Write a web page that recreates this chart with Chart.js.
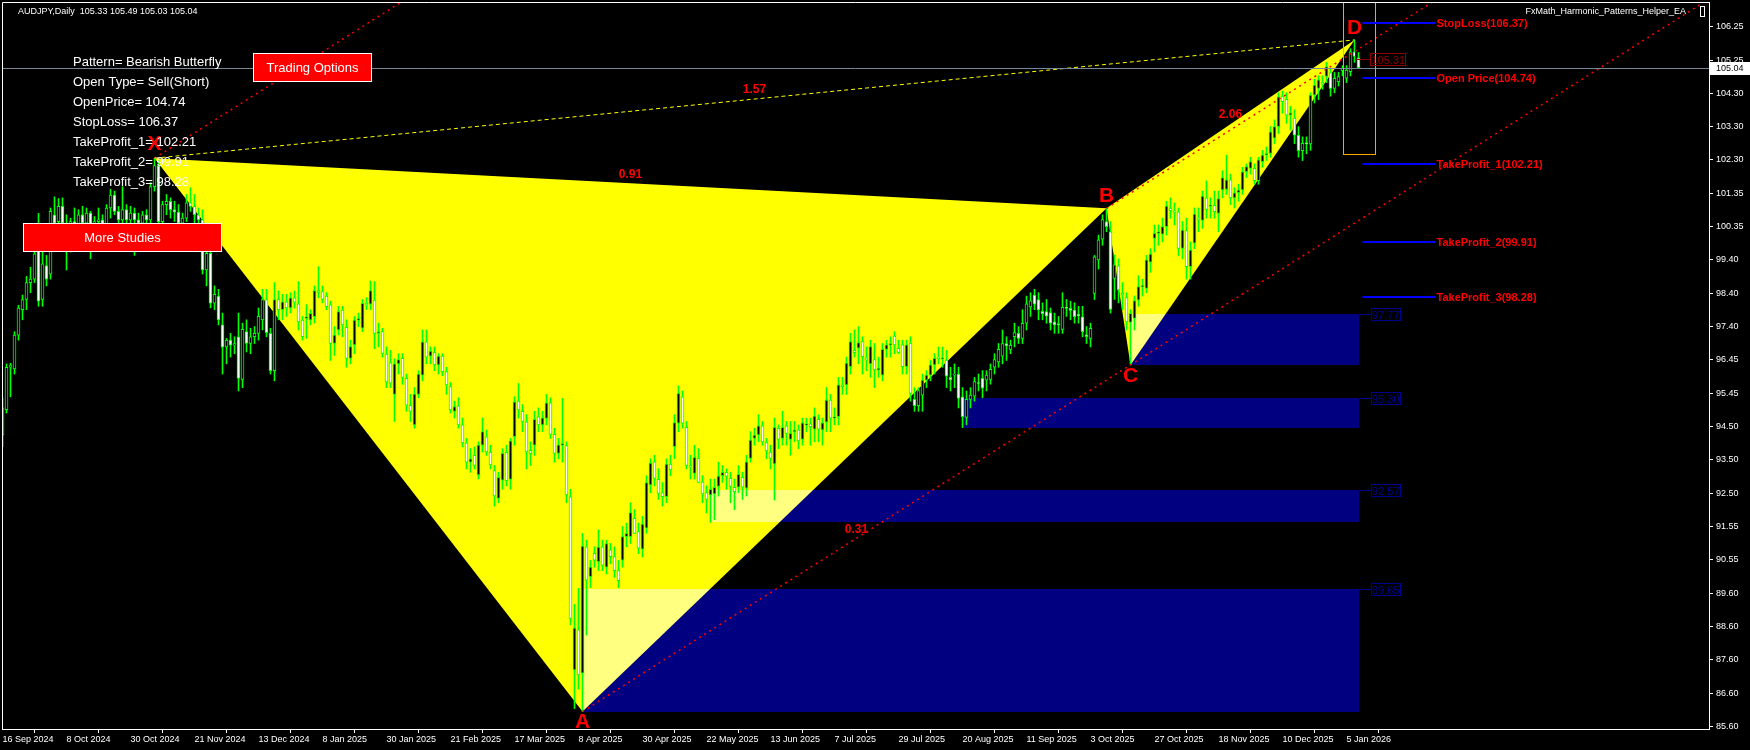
<!DOCTYPE html>
<html>
<head>
<meta charset="utf-8">
<script src="https://cdn.jsdelivr.net/npm/chart.js@4.4.1/dist/chart.umd.min.js"></script>
<style>
  html, body { margin: 0; padding: 0; background: #000; }
  canvas { display: block; }
</style>
</head>
<body>
<canvas id="myChart" width="1750" height="750"></canvas>
<script>
// AUDJPY daily candles, bar 0 = 16 Sep 2024
const opens = [
  94.20, 94.95, 96.20, 96.15, 97.15, 97.90, 98.20, 98.70, 98.80, 99.65,
  98.20, 99.20, 98.95, 100.70, 100.50, 100.95, 100.45, 99.90, 100.50, 100.30,
  100.70, 100.45, 100.75, 99.95, 100.50, 100.55, 100.30, 100.90, 101.28, 100.80,
  100.55, 100.85, 100.55, 100.75, 100.55, 100.45, 100.70, 100.55, 101.53, 102.15,
  100.50, 101.00, 101.10, 100.85, 100.78, 100.45, 100.60, 101.05, 100.95, 100.70,
  100.55, 99.07, 99.56, 98.09, 98.30, 97.45, 96.80, 97.00, 96.85, 97.10,
  95.84, 97.25, 96.90, 97.10, 97.20, 97.60, 98.20, 97.20, 96.10, 98.20,
  97.90, 98.13, 97.95, 98.25, 98.07, 97.59, 97.64, 97.60, 97.69, 98.46,
  98.43, 98.30, 98.04, 96.90, 97.30, 97.89, 97.38, 96.46, 96.86, 97.59,
  97.35, 98.09, 98.06, 98.18, 97.20, 97.25, 96.59, 96.33, 95.40, 96.30,
  96.46, 95.87, 95.08, 94.50, 95.40, 95.97, 96.95, 96.53, 96.64, 96.27,
  96.53, 96.07, 95.63, 94.90, 95.06, 94.50, 93.97, 93.40, 93.60, 93.02,
  93.90, 94.15, 93.70, 93.15, 92.33, 92.87, 93.69, 92.89, 94.15, 95.20,
  94.90, 94.59, 93.75, 93.90, 94.74, 94.50, 94.69, 95.15, 94.22, 93.66,
  93.90, 93.89, 92.38, 87.27, 88.45, 87.17, 90.90, 90.02, 90.71, 90.46,
  90.90, 90.30, 90.81, 90.61, 90.20, 90.51, 91.20, 91.20, 91.74, 91.35,
  90.83, 91.45, 92.73, 93.41, 92.89, 92.50, 92.38, 93.34, 93.86, 94.55,
  95.33, 94.43, 93.30, 93.07, 93.51, 92.82, 92.50, 92.43, 92.46, 92.68,
  93.00, 93.10, 92.92, 92.66, 92.66, 92.95, 92.63, 93.51, 94.10, 94.20,
  94.47, 93.98, 93.70, 93.35, 94.40, 94.10, 94.47, 94.07, 94.30, 94.35,
  94.07, 94.50, 94.53, 94.37, 94.66, 94.35, 94.58, 95.23, 94.70, 94.74,
  95.68, 95.68, 96.22, 96.70, 96.76, 96.96, 96.48, 96.30, 96.43, 96.12,
  95.97, 96.73, 96.86, 97.12, 96.76, 96.86, 96.22, 96.91, 95.25, 95.07,
  95.38, 95.82, 95.97, 96.27, 96.50, 96.45, 96.41, 95.90, 95.97, 96.00,
  95.33, 94.72, 95.25, 95.35, 95.75, 95.87, 95.82, 95.84, 96.20, 96.36,
  96.53, 96.90, 96.73, 97.10, 97.20, 97.05, 97.50, 97.98, 98.33, 98.20,
  97.85, 97.84, 97.81, 97.54, 97.49, 97.32, 97.97, 97.94, 97.89, 97.76,
  97.69, 97.16, 97.05, 98.38, 99.37, 99.98, 100.50, 100.20, 98.82, 99.19,
  98.38, 98.26, 97.52, 97.64, 98.18, 98.58, 98.53, 99.30, 100.00, 100.15,
  100.13, 100.35, 100.90, 100.80, 100.79, 99.71, 100.23, 99.17, 99.86, 100.60,
  100.53, 101.20, 100.95, 100.98, 100.74, 101.43, 101.45, 101.73, 101.20, 101.35,
  101.43, 101.97, 102.07, 102.07, 101.71, 102.27, 102.46, 102.51, 102.96, 103.30,
  104.19, 104.11, 103.64, 103.55, 103.05, 102.59, 102.83, 102.79, 104.23, 104.43,
  104.60, 104.78, 104.89, 104.43, 104.63, 104.95, 104.73, 104.92, 105.51, 105.33
];
const highs = [
  95.30, 96.30, 96.32, 97.25, 98.03, 98.33, 98.88, 99.15, 99.75, 100.74,
  99.65, 99.50, 100.90, 101.23, 101.18, 101.20, 100.70, 100.60, 100.90, 100.85,
  100.95, 100.90, 100.80, 100.65, 100.90, 100.70, 101.00, 101.45, 101.40, 100.95,
  101.53, 101.00, 100.95, 100.90, 100.75, 100.80, 100.85, 101.65, 102.37, 102.30,
  101.10, 101.30, 101.20, 101.10, 101.00, 100.75, 101.30, 101.50, 101.30, 100.90,
  100.85, 99.90, 99.70, 98.60, 98.50, 97.80, 97.05, 97.20, 97.10, 97.80,
  97.50, 97.60, 97.35, 97.40, 97.95, 98.50, 98.50, 97.35, 98.70, 98.45,
  98.35, 98.35, 98.40, 98.45, 98.73, 97.70, 98.05, 97.90, 98.60, 99.17,
  98.60, 98.40, 98.15, 97.40, 98.00, 98.00, 97.60, 97.00, 97.70, 97.80,
  98.20, 98.25, 98.75, 98.73, 97.50, 97.35, 96.80, 96.70, 96.45, 96.60,
  96.60, 96.00, 95.40, 95.60, 96.10, 97.30, 97.30, 96.80, 96.80, 96.60,
  96.60, 96.20, 95.75, 95.20, 95.30, 94.70, 94.10, 93.80, 93.85, 94.00,
  94.70, 94.35, 93.90, 93.30, 93.10, 93.80, 93.90, 94.10, 95.33, 95.72,
  95.10, 94.80, 94.00, 94.90, 95.00, 94.90, 95.40, 95.30, 94.40, 94.10,
  95.28, 94.00, 92.60, 89.20, 89.67, 91.30, 91.10, 90.50, 90.90, 91.40,
  91.10, 91.10, 91.00, 90.90, 90.50, 91.50, 91.60, 92.20, 92.00, 91.60,
  91.80, 93.00, 93.50, 93.60, 93.20, 92.80, 93.50, 93.60, 94.80, 95.65,
  95.50, 94.60, 93.60, 93.90, 93.80, 93.00, 92.70, 92.90, 92.90, 93.40,
  93.30, 93.20, 93.10, 92.90, 93.30, 93.10, 93.60, 94.30, 94.40, 94.80,
  94.60, 94.10, 93.90, 94.70, 94.50, 94.90, 94.60, 94.60, 94.60, 94.50,
  94.70, 94.70, 94.70, 95.00, 94.80, 94.70, 95.60, 95.40, 95.00, 95.90,
  95.90, 96.50, 97.20, 97.30, 97.40, 97.10, 96.80, 97.00, 96.90, 96.50,
  96.90, 97.00, 97.10, 97.25, 97.00, 97.00, 97.00, 97.10, 95.60, 95.60,
  96.00, 96.10, 96.40, 96.60, 96.80, 96.80, 96.70, 96.20, 96.30, 96.20,
  95.60, 95.50, 95.60, 95.90, 96.00, 96.10, 96.10, 96.30, 96.60, 96.90,
  97.30, 97.10, 97.00, 97.50, 97.40, 97.90, 98.30, 98.40, 98.50, 98.40,
  98.10, 98.20, 97.95, 97.80, 97.70, 98.40, 98.20, 98.15, 98.10, 98.00,
  98.00, 97.40, 97.50, 99.50, 100.10, 100.70, 100.89, 100.50, 99.51, 99.40,
  98.70, 98.40, 97.90, 98.30, 98.90, 98.80, 99.50, 99.70, 100.40, 100.40,
  100.60, 101.10, 101.20, 101.05, 100.90, 100.50, 100.60, 99.90, 100.90, 100.90,
  101.40, 101.70, 101.20, 101.40, 101.40, 102.00, 102.46, 101.90, 101.50, 101.60,
  102.10, 102.20, 102.40, 102.20, 102.40, 102.60, 102.70, 103.30, 103.50, 104.30,
  104.35, 104.30, 103.90, 103.80, 103.30, 103.00, 103.00, 104.30, 104.70, 104.80,
  104.80, 105.20, 105.00, 104.90, 104.90, 105.10, 105.10, 105.60, 105.86, 105.49
];
const lows = [
  93.86, 94.85, 95.33, 96.00, 97.00, 97.60, 97.90, 98.40, 98.70, 98.00,
  98.00, 98.60, 98.80, 99.66, 100.45, 100.30, 99.07, 99.60, 100.00, 100.10,
  100.20, 100.25, 99.40, 99.80, 100.30, 100.00, 100.20, 100.60, 100.70, 100.20,
  100.25, 100.40, 100.30, 99.50, 100.10, 100.20, 100.30, 100.45, 101.40, 100.40,
  100.20, 100.70, 100.60, 100.50, 100.20, 100.00, 100.50, 100.80, 100.40, 99.90,
  98.95, 98.60, 97.95, 97.90, 97.45, 96.00, 96.30, 96.50, 96.60, 95.50,
  95.60, 96.65, 96.60, 96.90, 97.00, 97.30, 97.10, 96.00, 95.80, 97.60,
  97.60, 97.70, 97.80, 97.95, 97.30, 97.00, 97.05, 97.45, 97.50, 98.25,
  98.10, 97.90, 96.40, 96.55, 97.15, 97.10, 96.20, 96.30, 96.60, 97.40,
  97.25, 97.90, 97.90, 96.75, 96.80, 96.50, 95.60, 95.60, 94.60, 96.00,
  95.70, 94.90, 94.60, 94.40, 95.30, 95.80, 96.30, 96.30, 96.10, 96.00,
  95.95, 95.40, 94.85, 94.70, 94.40, 93.85, 93.20, 93.10, 93.20, 92.90,
  93.70, 93.60, 93.20, 92.10, 92.20, 92.60, 92.70, 92.60, 93.90, 94.70,
  94.30, 93.20, 93.30, 93.60, 94.30, 94.30, 94.50, 94.10, 93.40, 93.50,
  93.40, 92.20, 88.60, 86.13, 86.70, 86.04, 88.30, 89.70, 90.30, 90.20,
  90.20, 90.10, 90.40, 90.00, 89.70, 90.30, 90.90, 91.00, 91.30, 90.70,
  90.60, 91.30, 92.50, 92.70, 92.30, 92.10, 92.20, 93.00, 93.50, 94.30,
  94.40, 93.20, 92.90, 92.90, 92.80, 92.20, 91.90, 91.62, 91.70, 92.40,
  92.80, 92.60, 92.20, 92.00, 92.50, 92.30, 92.40, 93.40, 93.90, 94.00,
  93.90, 93.50, 93.20, 92.28, 93.80, 93.90, 93.90, 93.60, 94.00, 93.80,
  93.90, 94.30, 93.90, 94.00, 94.00, 93.90, 94.30, 94.30, 94.50, 94.50,
  95.40, 95.40, 96.00, 96.50, 96.30, 96.00, 96.10, 95.90, 95.60, 95.90,
  95.80, 96.50, 96.50, 96.60, 96.60, 96.00, 96.00, 95.20, 94.90, 94.90,
  94.90, 95.60, 95.80, 96.00, 96.30, 96.20, 95.60, 95.50, 95.60, 95.00,
  94.42, 94.50, 95.00, 95.20, 95.50, 95.30, 95.50, 95.70, 96.00, 96.20,
  96.30, 96.40, 96.60, 96.80, 96.90, 96.90, 97.30, 97.70, 97.90, 97.60,
  97.60, 97.50, 97.30, 97.20, 97.20, 97.20, 97.70, 97.60, 97.50, 97.50,
  97.10, 96.90, 96.80, 98.20, 99.10, 99.80, 100.20, 97.80, 98.20, 98.10,
  97.90, 97.30, 96.27, 97.30, 98.00, 98.30, 98.40, 99.00, 99.60, 99.80,
  99.90, 100.10, 100.60, 100.40, 99.50, 99.40, 98.80, 98.80, 99.70, 100.20,
  100.30, 100.60, 100.60, 100.60, 100.20, 101.20, 101.30, 101.00, 100.90, 101.10,
  101.30, 101.80, 101.90, 101.60, 101.60, 102.10, 102.30, 102.40, 102.80, 103.10,
  103.70, 103.40, 103.20, 102.80, 102.40, 102.30, 102.50, 102.60, 104.00, 104.10,
  104.40, 104.60, 104.20, 104.30, 104.50, 104.80, 104.60, 104.80, 105.20, 105.03
];
const closes = [
  95.00, 96.20, 96.25, 97.15, 97.95, 98.20, 98.70, 98.80, 99.55, 98.15,
  99.25, 98.80, 100.80, 100.45, 100.95, 100.45, 99.90, 100.50, 100.30, 100.70,
  100.45, 100.75, 99.95, 100.50, 100.55, 100.30, 100.90, 101.28, 100.80, 100.55,
  100.85, 100.55, 100.75, 100.55, 100.45, 100.70, 100.55, 101.53, 102.15, 100.50,
  101.00, 101.10, 100.85, 100.78, 100.45, 100.60, 101.05, 100.95, 100.70, 100.55,
  99.07, 99.56, 98.09, 98.35, 97.60, 96.79, 97.00, 96.85, 96.90, 95.87,
  97.32, 96.90, 97.10, 97.20, 97.70, 98.20, 97.22, 96.10, 98.20, 97.90,
  98.13, 97.95, 98.25, 98.12, 97.54, 97.10, 97.69, 97.79, 98.46, 98.41,
  98.20, 97.99, 96.90, 97.15, 97.84, 97.45, 96.46, 96.81, 97.59, 97.64,
  98.09, 98.04, 98.46, 97.20, 97.25, 96.61, 95.77, 95.73, 96.30, 96.43,
  95.90, 95.08, 94.90, 95.41, 96.00, 96.95, 96.50, 96.68, 96.27, 96.53,
  96.07, 95.68, 94.94, 95.04, 94.50, 93.97, 93.40, 93.50, 93.30, 93.90,
  94.30, 93.70, 93.32, 92.40, 92.95, 93.66, 92.85, 94.03, 95.18, 94.94,
  94.60, 93.70, 93.66, 94.66, 94.50, 94.71, 95.15, 94.22, 93.66, 93.91,
  93.95, 92.43, 88.79, 88.50, 87.12, 90.92, 89.92, 90.30, 90.51, 90.89,
  90.36, 91.00, 90.61, 90.20, 89.90, 91.20, 91.30, 91.91, 91.30, 90.86,
  91.57, 92.80, 93.37, 92.92, 92.48, 92.38, 93.34, 93.17, 94.57, 95.43,
  94.55, 93.30, 93.25, 93.54, 92.80, 92.46, 92.30, 92.60, 92.66, 92.99,
  93.10, 92.98, 92.68, 92.53, 93.04, 92.66, 93.41, 94.05, 94.20, 94.47,
  94.00, 93.73, 93.51, 94.43, 94.07, 94.43, 94.25, 94.25, 94.35, 94.03,
  94.56, 94.53, 94.45, 94.76, 94.37, 94.56, 95.23, 94.70, 94.74, 95.68,
  95.63, 96.32, 96.96, 96.63, 96.93, 96.51, 96.41, 96.81, 96.12, 96.17,
  96.73, 96.86, 96.90, 96.86, 96.64, 96.22, 96.86, 95.43, 95.07, 95.51,
  95.82, 95.97, 96.27, 96.46, 96.45, 96.46, 95.94, 95.83, 95.98, 95.28,
  94.74, 95.25, 95.38, 95.78, 95.72, 95.58, 95.97, 96.14, 96.43, 96.73,
  96.90, 96.83, 96.85, 97.22, 97.05, 97.50, 98.07, 98.16, 98.06, 97.89,
  97.78, 97.71, 97.50, 97.45, 97.45, 97.97, 97.94, 97.88, 97.69, 97.72,
  97.25, 97.10, 97.35, 99.46, 99.96, 100.56, 100.35, 97.91, 99.22, 98.48,
  98.33, 97.54, 97.79, 98.17, 98.58, 98.60, 99.37, 99.54, 100.15, 100.20,
  100.35, 100.96, 100.82, 100.77, 99.71, 100.25, 99.17, 99.66, 100.72, 100.57,
  101.25, 100.86, 100.98, 100.79, 101.18, 101.80, 101.73, 101.20, 101.35, 101.43,
  101.97, 102.12, 102.27, 101.71, 102.32, 102.46, 102.51, 103.15, 103.30, 104.18,
  104.04, 103.64, 103.71, 103.05, 102.59, 102.81, 102.79, 104.23, 104.53, 104.68,
  104.56, 105.07, 104.43, 104.73, 104.78, 105.02, 104.97, 105.51, 105.37, 105.04
];

const dateLabels = ['16 Sep 2024', '8 Oct 2024', '30 Oct 2024', '21 Nov 2024', '13 Dec 2024', '8 Jan 2025',
  '30 Jan 2025', '21 Feb 2025', '17 Mar 2025', '8 Apr 2025', '30 Apr 2025', '22 May 2025', '13 Jun 2025',
  '7 Jul 2025', '29 Jul 2025', '20 Aug 2025', '11 Sep 2025', '3 Oct 2025', '27 Oct 2025', '18 Nov 2025',
  '10 Dec 2025', '5 Jan 2026'];
const dateTickBars = [0, 16, 32, 48, 64, 80, 96, 112, 128, 144, 160, 176, 192, 208, 224, 240, 256, 272, 288, 304, 320, 336];
const priceTickLabels = ['85.60', '86.60', '87.60', '88.60', '89.60', '90.55', '91.55', '92.50', '93.50', '94.50', '95.45',
  '96.45', '97.40', '98.40', '99.40', '100.35', '101.35', '102.30', '103.30', '104.30', '105.25', '106.25'];

// harmonic pattern points
const patternNames = ['X', 'A', 'B', 'C', 'D'];
const patternBars = [38, 145, 276, 282, 338];
const patternPrices = [102.37, 86.04, 100.89, 96.27, 105.86];
const ratioTexts = ['0.91', '1.57', '0.31', '2.06'];
const ratioPairs = [[0, 2], [0, 4], [1, 3], [2, 4]];

// blue zones
const zoneStartBars = [282, 240, 177, 145];
const zoneTops = [97.77, 95.30, 92.57, 89.65];
const zoneBottoms = [96.27, 94.42, 91.62, 86.04];
const zoneEndBar = 339;

// trade levels
const levelNames = ['StopLoss', 'Open Price', 'TakeProfit_1', 'TakeProfit_2', 'TakeProfit_3'];
const levelPrices = [106.37, 104.74, 102.21, 99.91, 98.28];
const infoLines = ['Pattern= Bearish Butterfly', 'Open Type= Sell(Short)', 'OpenPrice= 104.74', 'StopLoss= 106.37',
  'TakeProfit_1= 102.21', 'TakeProfit_2= 99.91', 'TakeProfit_3= 98.28'];
const bidPrice = 105.04;
const markPrice = 105.31;

const FONT = '"Liberation Sans", Arial, sans-serif';

const mt4Overlay = {
  id: 'mt4Overlay',
  beforeDraw(chart) {
    const ctx = chart.ctx;
    ctx.save();
    ctx.fillStyle = '#000000';
    ctx.fillRect(0, 0, chart.width, chart.height);
    ctx.restore();
  },
  beforeDatasetsDraw(chart) {
    const {ctx, chartArea: a, scales: {x, y}} = chart;
    const pt = k => [x.getPixelForValue(patternBars[k]), y.getPixelForValue(patternPrices[k])];
    ctx.save();
    ctx.beginPath();
    ctx.rect(a.left, a.top, a.right - a.left, a.bottom - a.top);
    ctx.clip();
    ctx.fillStyle = '#ffff00';
    [[0, 1, 2], [2, 3, 4]].forEach(tri => {
      ctx.beginPath();
      tri.forEach((k, j) => {
        const p = pt(k);
        if (j === 0) ctx.moveTo(p[0], p[1]); else ctx.lineTo(p[0], p[1]);
      });
      ctx.closePath();
      ctx.fill();
    });
    // MT4 xors overlapping objects, navy over yellow turns pale yellow
    ctx.globalCompositeOperation = 'difference';
    ctx.fillStyle = '#000080';
    zoneTops.forEach((top, k) => {
      const x0 = Math.round(x.getPixelForValue(zoneStartBars[k]));
      const x1 = Math.round(x.getPixelForValue(zoneEndBar));
      const y0 = Math.round(y.getPixelForValue(top));
      const y1 = Math.round(y.getPixelForValue(zoneBottoms[k]));
      ctx.fillRect(x0, y0, x1 - x0, y1 - y0);
    });
    ctx.restore();
  },
  afterDatasetsDraw(chart) {
    const {ctx, chartArea: a, scales: {x, y}} = chart;
    const pt = k => [x.getPixelForValue(patternBars[k]), y.getPixelForValue(patternPrices[k])];
    ctx.save();
    ctx.beginPath();
    ctx.rect(a.left, a.top, a.right - a.left, a.bottom - a.top);
    ctx.clip();

    // channel lines parallel to A-C, from X, A and B
    const slope = (patternPrices[3] - patternPrices[1]) / (patternBars[3] - patternBars[1]);
    ctx.strokeStyle = '#ff0000';
    ctx.lineWidth = 1.5;
    ctx.setLineDash([2, 4]);
    [0, 1, 2].forEach(k => {
      const endBar = x.max;
      const endPrice = patternPrices[k] + slope * (endBar - patternBars[k]);
      const p = pt(k);
      ctx.beginPath();
      ctx.moveTo(p[0], p[1]);
      ctx.lineTo(x.getPixelForValue(endBar), y.getPixelForValue(endPrice));
      ctx.stroke();
    });

    // X-D dashed line
    ctx.strokeStyle = '#ffff00';
    ctx.lineWidth = 1;
    ctx.setLineDash([4, 3]);
    ctx.beginPath();
    ctx.moveTo(...pt(0));
    ctx.lineTo(...pt(4));
    ctx.stroke();
    ctx.setLineDash([]);

    // ratio labels
    ctx.fillStyle = '#ff0000';
    ctx.font = 'bold 12px ' + FONT;
    ctx.textAlign = 'center';
    ctx.textBaseline = 'middle';
    ratioPairs.forEach((pr, k) => {
      const p = pt(pr[0]), q = pt(pr[1]);
      ctx.fillText(ratioTexts[k], (p[0] + q[0]) / 2, (p[1] + q[1]) / 2 - 9);
    });

    // point letters
    const letterShift = [-14, 11, -12, 11, -12];
    ctx.font = 'bold 21px ' + FONT;
    patternNames.forEach((n, k) => {
      const p = pt(k);
      ctx.fillText(n, p[0], p[1] + letterShift[k]);
    });

    // bid line
    const by = Math.round(y.getPixelForValue(bidPrice)) + 0.5;
    ctx.strokeStyle = '#778899';
    ctx.beginPath();
    ctx.moveTo(a.left, by);
    ctx.lineTo(a.right, by);
    ctx.stroke();

    // orange box around last bars
    ctx.strokeStyle = '#ffa500';
    const ox0 = Math.round(x.getPixelForValue(335.2)) + 0.5;
    const ox1 = Math.round(x.getPixelForValue(343.2)) + 0.5;
    const oy1 = Math.round(y.getPixelForValue(102.49)) + 0.5;
    ctx.strokeRect(ox0, a.top + 0.5, ox1 - ox0, oy1 - a.top - 0.5);

    // trade levels
    ctx.textAlign = 'left';
    ctx.font = 'bold 11px ' + FONT;
    const lx0 = x.getPixelForValue(340), lx1 = x.getPixelForValue(358.25);
    levelPrices.forEach((p, k) => {
      const ly = Math.round(y.getPixelForValue(p));
      ctx.fillStyle = '#0000ff';
      ctx.fillRect(lx0, ly - 1, lx1 - lx0, 2);
      ctx.fillStyle = '#ff0000';
      ctx.fillText(levelNames[k] + '(' + p.toFixed(2) + ')', lx1 + 1, ly + 1);
    });

    // zone price tags
    ctx.font = '11px ' + FONT;
    ctx.lineWidth = 1;
    const zx = Math.round(x.getPixelForValue(zoneEndBar));
    zoneTops.forEach(top => {
      const zy = Math.round(y.getPixelForValue(top)) + 0.5;
      ctx.strokeStyle = '#00008c';
      ctx.beginPath();
      ctx.moveTo(zx, zy);
      ctx.lineTo(zx + 12, zy);
      ctx.stroke();
      ctx.strokeRect(zx + 12.5, zy - 6, 29, 12);
      ctx.fillStyle = '#00008c';
      ctx.fillText(top.toFixed(2), zx + 13, zy + 1);
    });

    // dark red mark near D
    const dx = Math.round(x.getPixelForValue(338)) + 0.5;
    const my = Math.round(y.getPixelForValue(markPrice)) + 0.5;
    ctx.strokeStyle = '#8b0000';
    ctx.beginPath();
    ctx.moveTo(dx, y.getPixelForValue(patternPrices[4]));
    ctx.lineTo(dx, my);
    ctx.lineTo(dx + 15, my);
    ctx.stroke();
    ctx.strokeRect(dx + 15, my - 6, 35, 12);
    ctx.fillStyle = '#8b0000';
    ctx.fillText(markPrice.toFixed(2), dx + 16, my + 1);

    // info text
    ctx.fillStyle = '#ffffff';
    ctx.font = '13px ' + FONT;
    ctx.textBaseline = 'alphabetic';
    infoLines.forEach((t, k) => ctx.fillText(t, 73, 66 + k * 20));

    // buttons
    const button = (bx, bw, bt, label) => {
      ctx.fillStyle = '#ff0000';
      ctx.fillRect(bx, bt, bw, 29);
      ctx.strokeStyle = '#ffffff';
      ctx.strokeRect(bx + 0.5, bt + 0.5, bw - 1, 28);
      ctx.fillStyle = '#ffffff';
      ctx.textAlign = 'center';
      ctx.textBaseline = 'middle';
      ctx.fillText(label, bx + bw / 2, bt + 15);
    };
    button(253, 119, 53, 'Trading Options');
    button(23, 199, 223, 'More Studies');

    // header texts
    ctx.font = '9px ' + FONT;
    ctx.fillStyle = '#ffffff';
    ctx.textBaseline = 'alphabetic';
    ctx.textAlign = 'left';
    ctx.fillText('AUDJPY,Daily  ' + [opens[339], highs[339], lows[339], closes[339]].map(v => v.toFixed(2)).join(' '), 18, 14);
    ctx.textAlign = 'right';
    ctx.fillText('FxMath_Harmonic_Patterns_Helper_EA', 1686, 14);
    ctx.strokeStyle = '#ffffff';
    ctx.strokeRect(1700.5, 6.5, 4, 10);

    ctx.restore();

    // frame top and left
    ctx.save();
    ctx.strokeStyle = '#ffffff';
    ctx.lineWidth = 1;
    ctx.beginPath();
    ctx.moveTo(a.left + 0.5, a.bottom);
    ctx.lineTo(a.left + 0.5, a.top + 0.5);
    ctx.lineTo(a.right, a.top + 0.5);
    ctx.stroke();
    ctx.restore();
  },
  afterDraw(chart) {
    const {ctx, chartArea: a, scales: {y}} = chart;
    const by = Math.round(y.getPixelForValue(bidPrice));
    ctx.save();
    ctx.fillStyle = '#ffffff';
    ctx.fillRect(a.right + 1, by - 6, 40, 13);
    ctx.fillStyle = '#000000';
    ctx.font = '9px ' + FONT;
    ctx.textBaseline = 'middle';
    ctx.fillText(bidPrice.toFixed(2), a.right + 7, by + 1);
    ctx.restore();
  }
};

const barIndex = opens.map((o, i) => i);

new Chart('myChart', {
  type: 'bar',
  data: {
    datasets: [
      {
        label: 'body',
        data: barIndex.map(i => ({x: i, y: [opens[i], closes[i]]})),
        backgroundColor: barIndex.map(i => closes[i] >= opens[i] ? '#000000' : '#ffffff'),
        borderColor: '#00ff00',
        borderWidth: 1,
        borderSkipped: false,
        barThickness: 3,
        minBarLength: 1,
        grouped: false
      },
      {
        label: 'wick',
        data: barIndex.map(i => ({x: i, y: [lows[i], highs[i]]})),
        backgroundColor: '#00ff00',
        borderWidth: 0,
        barThickness: 1,
        grouped: false
      }
    ]
  },
  options: {
    responsive: false,
    animation: false,
    devicePixelRatio: 1,
    events: [],
    layout: {padding: {left: 2, top: 2, right: 0, bottom: 0}},
    plugins: {legend: {display: false}, tooltip: {enabled: false}, title: {display: false}},
    scales: {
      x: {
        type: 'linear',
        offset: false,
        min: -0.125,
        max: 426.625,
        grid: {display: true, drawOnChartArea: false, drawTicks: true, tickLength: 4, color: '#ffffff'},
        border: {display: true, color: '#ffffff', width: 1},
        ticks: {
          color: '#ffffff',
          font: {family: 'Liberation Sans', size: 9},
          padding: 1,
          align: 'start',
          autoSkip: false,
          maxRotation: 0,
          minRotation: 0,
          callback: (v, i) => dateLabels[i]
        },
        afterBuildTicks: scale => { scale.ticks = dateTickBars.map(b => ({value: b})); },
        afterFit: scale => {
          scale.height = 21;
          scale.paddingLeft = 0; scale.paddingRight = 0; scale.paddingTop = 0; scale.paddingBottom = 0;
        }
      },
      y: {
        position: 'right',
        min: 85.525,
        max: 106.979,
        grid: {display: true, drawOnChartArea: false, drawTicks: true, tickLength: 4, color: '#ffffff'},
        border: {display: true, color: '#ffffff', width: 1},
        ticks: {
          color: '#ffffff',
          font: {family: 'Liberation Sans', size: 9},
          padding: 3,
          crossAlign: 'near',
          autoSkip: false,
          callback: (v, i) => priceTickLabels[i]
        },
        afterBuildTicks: scale => {
          const lo = parseFloat(priceTickLabels[0]);
          const hi = parseFloat(priceTickLabels[priceTickLabels.length - 1]);
          const n = priceTickLabels.length - 1;
          scale.ticks = priceTickLabels.map((t, k) => ({value: lo + (hi - lo) * k / n}));
        },
        afterFit: scale => {
          scale.width = 41;
          scale.paddingLeft = 0; scale.paddingRight = 0; scale.paddingTop = 0; scale.paddingBottom = 0;
        }
      }
    }
  },
  plugins: [mt4Overlay]
});
</script>
</body>
</html>
